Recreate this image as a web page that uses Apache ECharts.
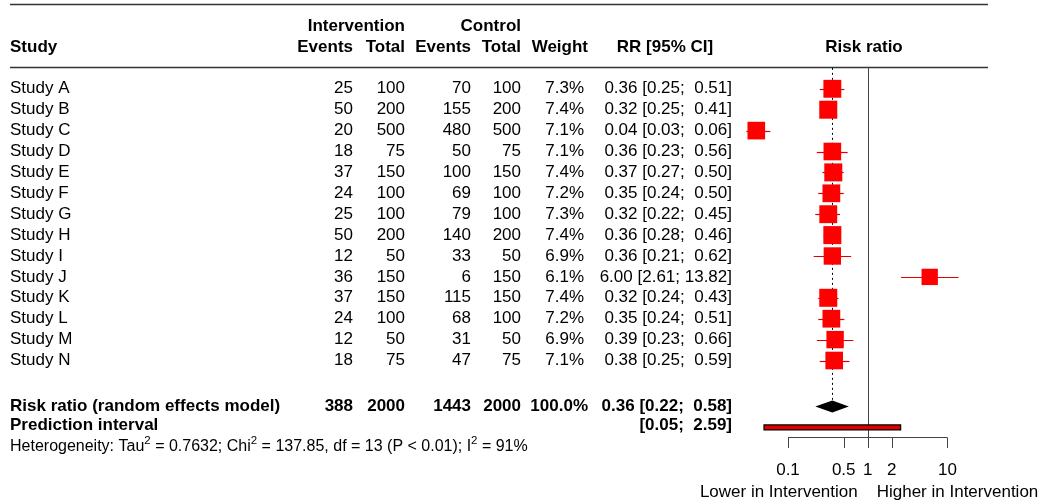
<!DOCTYPE html>
<html><head><meta charset="utf-8">
<script src="https://cdn.jsdelivr.net/npm/echarts@6/dist/echarts.min.js"></script>
<style>html,body{margin:0;padding:0;background:#fff}#c{width:1048px;height:504px}</style>
</head><body><div id="c"></div><script>
// ---- data ----
const studies = ['Study A','Study B','Study C','Study D','Study E','Study F','Study G','Study H','Study I','Study J','Study K','Study L','Study M','Study N'];
const intEvents = [25,50,20,18,37,24,25,50,12,36,37,24,12,18];
const intTotal = [100,200,500,75,150,100,100,200,50,150,150,100,50,75];
const ctrlEvents = [70,155,480,50,100,69,79,140,33,6,115,68,31,47];
const ctrlTotal = [100,200,500,75,150,100,100,200,50,150,150,100,50,75];
const weights = [7.3,7.4,7.1,7.1,7.4,7.2,7.3,7.4,6.9,6.1,7.4,7.2,6.9,7.1];
const rr = [0.36,0.32,0.04,0.36,0.37,0.35,0.32,0.36,0.36,6.00,0.32,0.35,0.39,0.38];
const ciLow = [0.25,0.25,0.03,0.23,0.27,0.24,0.22,0.28,0.21,2.61,0.24,0.24,0.23,0.25];
const ciHigh = [0.51,0.41,0.06,0.56,0.50,0.50,0.45,0.46,0.62,13.82,0.43,0.51,0.66,0.59];
const pooled = {events1: 388, total1: 2000, events2: 1443, total2: 2000, weight: 100.0, rr: 0.36, lo: 0.22, hi: 0.58};
const predInterval = [0.05, 2.59];
const tickValues = [0.1, 0.5, 1, 2, 10];
const tickLabels = ['0.1','0.5','1','2','10'];
const hetText = {tau2: '0.7632', chi2: '137.85', df: 13, p: 'P < 0.01', i2: '91%'};

// ---- layout ----
const W = 1048, H = 504;
const ROW0 = 88.8, ROWH = 20.9;
const yMin = -ROW0 / ROWH, yMax = (H - ROW0) / ROWH;
const FONT = '"Liberation Sans", Arial, Helvetica, sans-serif';
const FS = 17;
const ROW_TOPRULE = -4.06, ROW_H1 = -3.0, ROW_H2 = -2.0, ROW_HRULE = -1.05;
const ROW_SUM = 15.2, ROW_PRED_T = 16.08, ROW_PRED = 16.2, ROW_HET = 17.1;
const ROW_AXIS = 16.68, ROW_TICKEND = 17.19, ROW_TICKLAB = 18.25, ROW_DIR = 19.3;
const COL = {study: 10, ev1: 353, tot1: 405, ev2: 471, tot2: 521, wt: 584, rr: 732};
const FOREST_L = 732.3, FOREST_R = 1003.1;

const f2 = v => v.toFixed(2);
const ciStr = (lo, hi) => '[' + f2(lo) + '; ' + (hi < 10 ? ' ' : '') + f2(hi) + ']';

function txt(p, s, o) {
  o = o || {};
  const st = {
    text: s, x: 0, y: 0,
    fontSize: o.size || FS, fontFamily: FONT, fontWeight: o.bold ? 'bold' : 'normal',
    fill: '#000', align: o.align || 'left', verticalAlign: 'middle'
  };
  if (o.rich) { st.rich = o.rich; st.lineHeight = o.lineHeight; }
  return {type: 'text', x: p[0], y: p[1], silent: true, style: st};
}

function tableRender(params, api) {
  const c = (x, r) => api.coord([x, r]);
  const ch = [];
  // rules
  [ROW_TOPRULE, ROW_HRULE].forEach(r => {
    const a = c(10, r), b = c(988, r);
    ch.push({type: 'line', silent: true, shape: {x1: a[0], y1: Math.round(a[1]) + 0.5, x2: b[0], y2: Math.round(b[1]) + 0.5}, style: {stroke: '#333', lineWidth: 1.3}});
  });
  // headers
  ch.push(txt(c(COL.tot1, ROW_H1), 'Intervention', {bold: 1, align: 'right'}));
  ch.push(txt(c(COL.tot2, ROW_H1), 'Control', {bold: 1, align: 'right'}));
  ch.push(txt(c(COL.study, ROW_H2), 'Study', {bold: 1}));
  ch.push(txt(c(COL.ev1, ROW_H2), 'Events', {bold: 1, align: 'right'}));
  ch.push(txt(c(COL.tot1, ROW_H2), 'Total', {bold: 1, align: 'right'}));
  ch.push(txt(c(COL.ev2, ROW_H2), 'Events', {bold: 1, align: 'right'}));
  ch.push(txt(c(COL.tot2, ROW_H2), 'Total', {bold: 1, align: 'right'}));
  ch.push(txt(c(588, ROW_H2), 'Weight', {bold: 1, align: 'right'}));
  ch.push(txt(c(665, ROW_H2), 'RR [95% CI]', {bold: 1, align: 'center'}));
  ch.push(txt(c(864, ROW_H2), 'Risk ratio', {bold: 1, align: 'center'}));
  // study rows
  studies.forEach((s, i) => {
    ch.push(txt(c(COL.study, i), s));
    ch.push(txt(c(COL.ev1, i), String(intEvents[i]), {align: 'right'}));
    ch.push(txt(c(COL.tot1, i), String(intTotal[i]), {align: 'right'}));
    ch.push(txt(c(COL.ev2, i), String(ctrlEvents[i]), {align: 'right'}));
    ch.push(txt(c(COL.tot2, i), String(ctrlTotal[i]), {align: 'right'}));
    ch.push(txt(c(COL.wt, i), weights[i].toFixed(1) + '%', {align: 'right'}));
    ch.push(txt(c(COL.rr, i), f2(rr[i]) + ' ' + ciStr(ciLow[i], ciHigh[i]), {align: 'right'}));
  });
  // pooled row
  const B = {bold: 1, align: 'right'};
  ch.push(txt(c(COL.study, ROW_SUM), 'Risk ratio (random effects model)', {bold: 1}));
  ch.push(txt(c(COL.ev1, ROW_SUM), String(pooled.events1), B));
  ch.push(txt(c(COL.tot1, ROW_SUM), String(pooled.total1), B));
  ch.push(txt(c(COL.ev2, ROW_SUM), String(pooled.events2), B));
  ch.push(txt(c(COL.tot2, ROW_SUM), String(pooled.total2), B));
  ch.push(txt(c(588, ROW_SUM), pooled.weight.toFixed(1) + '%', B));
  ch.push(txt(c(COL.rr, ROW_SUM), f2(pooled.rr) + ' ' + ciStr(pooled.lo, pooled.hi), B));
  ch.push(txt(c(COL.study, ROW_PRED_T), 'Prediction interval', {bold: 1}));
  ch.push(txt(c(COL.rr, ROW_PRED_T), ciStr(predInterval[0], predInterval[1]), B));
  // heterogeneity
  const het = 'Heterogeneity: Tau{sup|2} = ' + hetText.tau2 + '; Chi{sup|2} = ' + hetText.chi2 +
    ', df = ' + hetText.df + ' (' + hetText.p + '); I{sup|2} = ' + hetText.i2;
  ch.push(txt(c(COL.study, ROW_HET), het, {size: 16, lineHeight: 22, rich: {
    sup: {fontSize: 11.5, fontFamily: FONT, verticalAlign: 'top', lineHeight: 12, fill: '#000'}
  }}));
  return {type: 'group', children: ch};
}

function forestRender(params, api) {
  const c = (x, r) => api.coord([x, r]);
  const ch = [];
  const px = v => Math.round(v) + 0.5;
  // reference line at 1
  let a = c(1, ROW_HRULE), b = c(1, ROW_AXIS);
  ch.push({type: 'line', silent: true, shape: {x1: px(a[0]), y1: a[1], x2: px(b[0]), y2: b[1]}, style: {stroke: '#444', lineWidth: 1}});
  // dotted line at pooled estimate
  a = c(pooled.rr, ROW_HRULE); b = c(pooled.rr, ROW_SUM);
  ch.push({type: 'line', silent: true, shape: {x1: px(a[0]), y1: a[1] + 1, x2: px(b[0]), y2: b[1] - 6}, style: {stroke: '#000', lineWidth: 1, lineDash: [2, 3]}});
  // CI lines
  studies.forEach((s, i) => {
    const p1 = c(ciLow[i], i), p2 = c(ciHigh[i], i);
    ch.push({type: 'line', silent: true, shape: {x1: p1[0], y1: Math.round(p1[1]) + 0.5, x2: p2[0], y2: Math.round(p2[1]) + 0.5}, style: {stroke: '#e00000', lineWidth: 1.2}});
  });
  // squares
  studies.forEach((s, i) => {
    const p = c(rr[i], i);
    const sz = 18 * Math.sqrt(weights[i] / 7.4);
    ch.push({type: 'rect', silent: true, shape: {x: p[0] - sz / 2, y: p[1] - sz / 2, width: sz, height: sz}, style: {fill: '#ff0000'}});
  });
  // diamond
  const dl = c(pooled.lo, ROW_SUM), dm = c(pooled.rr, ROW_SUM), dr = c(pooled.hi, ROW_SUM);
  ch.push({type: 'polygon', silent: true, shape: {points: [[dl[0], dl[1]], [dm[0], dm[1] - 6], [dr[0], dr[1]], [dm[0], dm[1] + 6]]}, style: {fill: '#000'}});
  // prediction interval bar
  const pl = c(predInterval[0], ROW_PRED), pr = c(predInterval[1], ROW_PRED);
  ch.push({type: 'rect', silent: true, shape: {x: pl[0], y: pl[1] - 2.5, width: pr[0] - pl[0], height: 5}, style: {fill: '#e00000', stroke: '#000', lineWidth: 1.2}});
  // axis
  a = c(tickValues[0], ROW_AXIS); b = c(tickValues[tickValues.length - 1], ROW_AXIS);
  ch.push({type: 'line', silent: true, shape: {x1: a[0], y1: px(a[1]), x2: b[0], y2: px(b[1])}, style: {stroke: '#444', lineWidth: 1}});
  tickValues.forEach((v, k) => {
    const t1 = c(v, ROW_AXIS), t2 = c(v, ROW_TICKEND), tl = c(v, ROW_TICKLAB);
    ch.push({type: 'line', silent: true, shape: {x1: px(t1[0]), y1: px(t1[1]), x2: px(t2[0]), y2: t2[1]}, style: {stroke: '#444', lineWidth: 1}});
    ch.push(txt(tl, tickLabels[k], {align: 'center'}));
  });
  const r1 = c(1, ROW_DIR);
  ch.push(txt([r1[0] - 10, r1[1]], 'Lower in Intervention', {align: 'right'}));
  ch.push(txt([r1[0] + 9, r1[1]], 'Higher in Intervention', {align: 'left'}));
  return {type: 'group', children: ch};
}

const chart = echarts.init(document.getElementById('c'), null, {renderer: 'canvas'});
chart.setOption({
  animation: false,
  backgroundColor: '#fff',
  grid: [
    {left: 0, right: 0, top: 0, bottom: 0},
    {left: FOREST_L, right: W - FOREST_R, top: 0, bottom: 0}
  ],
  xAxis: [
    {type: 'value', gridIndex: 0, min: 0, max: W, show: false},
    {type: 'log', gridIndex: 1, min: 0.02, max: 50, show: false}
  ],
  yAxis: [
    {type: 'value', gridIndex: 0, min: yMin, max: yMax, inverse: true, show: false},
    {type: 'value', gridIndex: 1, min: yMin, max: yMax, inverse: true, show: false}
  ],
  series: [
    {type: 'custom', xAxisIndex: 0, yAxisIndex: 0, data: [[0, 0]], renderItem: tableRender, silent: true, clip: false},
    {type: 'custom', xAxisIndex: 1, yAxisIndex: 1, data: [[1, 0]], renderItem: forestRender, silent: true, clip: false}
  ]
});
</script></body></html>
